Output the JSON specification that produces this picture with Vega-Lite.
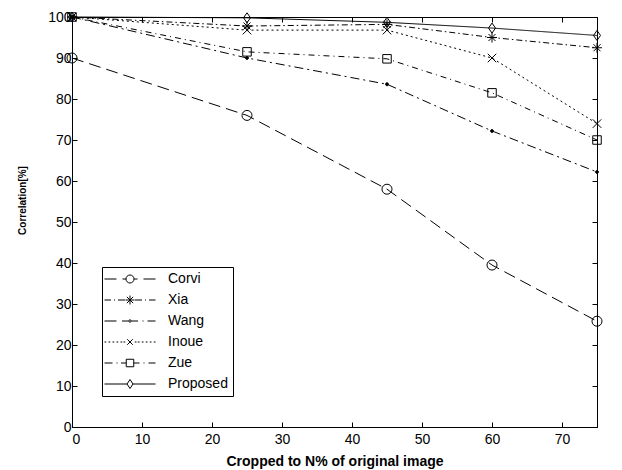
{
  "$schema": "https://vega.github.io/schema/vega-lite/v6.json",
  "width": 525,
  "height": 410,
  "autosize": {"type": "none"},
  "padding": {"left": 72, "top": 17, "right": 25, "bottom": 43},
  "background": "white",
  "config": {
    "view": {"stroke": "black", "strokeWidth": 1},
    "font": "Liberation Sans",
    "axis": {
      "domainColor": "black", "tickColor": "black", "labelColor": "black", "titleColor": "black",
      "grid": false, "labelFont": "Liberation Sans", "labelFontSize": 14, "tickSize": -5,
      "domainWidth": 1, "tickWidth": 1
    }
  },
  "data": {
    "values": [
      {"series": "Corvi", "x": 0, "y": 90}, {"series": "Corvi", "x": 25, "y": 76}, {"series": "Corvi", "x": 45, "y": 58}, {"series": "Corvi", "x": 60, "y": 39.5}, {"series": "Corvi", "x": 75, "y": 25.8},
      {"series": "Xia", "x": 0, "y": 100}, {"series": "Xia", "x": 25, "y": 97.8}, {"series": "Xia", "x": 45, "y": 98.2}, {"series": "Xia", "x": 60, "y": 95}, {"series": "Xia", "x": 75, "y": 92.5},
      {"series": "Wang", "x": 0, "y": 100}, {"series": "Wang", "x": 25, "y": 90}, {"series": "Wang", "x": 45, "y": 83.6}, {"series": "Wang", "x": 60, "y": 72.2}, {"series": "Wang", "x": 75, "y": 62.2},
      {"series": "Inoue", "x": 0, "y": 100}, {"series": "Inoue", "x": 25, "y": 96.8}, {"series": "Inoue", "x": 45, "y": 96.8}, {"series": "Inoue", "x": 60, "y": 90}, {"series": "Inoue", "x": 75, "y": 74},
      {"series": "Zue", "x": 0, "y": 100}, {"series": "Zue", "x": 25, "y": 91.5}, {"series": "Zue", "x": 45, "y": 89.8}, {"series": "Zue", "x": 60, "y": 81.5}, {"series": "Zue", "x": 75, "y": 70},
      {"series": "Proposed", "x": 0, "y": 100}, {"series": "Proposed", "x": 25, "y": 99.8}, {"series": "Proposed", "x": 45, "y": 98.7}, {"series": "Proposed", "x": 60, "y": 97.3}, {"series": "Proposed", "x": 75, "y": 95.5}
    ]
  },
  "resolve": {
    "scale": {"shape": "independent", "fill": "independent", "strokeDash": "independent", "strokeWidth": "independent"},
    "axis": {"x": "independent", "y": "independent"}
  },
  "layer": [
    {
      "mark": {"type": "line", "color": "black", "strokeWidth": 1},
      "encoding": {
        "x": {"field": "x", "type": "quantitative", "scale": {"domain": [0, 75], "nice": false},
          "axis": {"orient": "bottom", "values": [0, 10, 20, 30, 40, 50, 60, 70], "title": "Cropped to N% of original image",
            "titleFont": "Liberation Sans", "titleFontSize": 14, "titleFontWeight": "bold", "labelPadding": 10, "titlePadding": 8}},
        "y": {"field": "y", "type": "quantitative", "scale": {"domain": [0, 100], "nice": false},
          "axis": {"orient": "left", "values": [0, 10, 20, 30, 40, 50, 60, 70, 80, 90, 100], "title": "Correlation[%]",
            "titleFont": "Liberation Sans", "titleFontSize": 10, "titleFontWeight": "bold", "labelPadding": 6,
            "titleX": -50, "titleY": 183, "titleAngle": -90, "titleAlign": "center", "titleBaseline": "middle"}},
        "strokeDash": {"field": "series", "type": "nominal",
          "scale": {"domain": ["Corvi", "Xia", "Wang", "Inoue", "Zue", "Proposed"], "range": [[12, 6], [6, 3, 1.5, 3], [9, 4, 2, 4], [2, 3], [6, 4, 1, 4], [1, 0]]},
          "legend": null},
        "strokeWidth": {"field": "series", "type": "nominal",
          "scale": {"domain": ["Corvi", "Xia", "Wang", "Inoue", "Zue", "Proposed"], "range": [1, 1, 1.2, 1, 1, 1.6]},
          "legend": null}
      }
    },
    {
      "mark": {"type": "point", "filled": true, "stroke": "black", "strokeWidth": 1, "opacity": 1, "size": 100},
      "encoding": {
        "x": {"field": "x", "type": "quantitative", "axis": {"orient": "top", "labels": false, "title": null, "values": [0, 10, 20, 30, 40, 50, 60, 70]}},
        "y": {"field": "y", "type": "quantitative", "axis": {"orient": "right", "labels": false, "title": null, "values": [0, 10, 20, 30, 40, 50, 60, 70, 80, 90, 100]}},
        "shape": {"field": "series", "type": "nominal",
          "scale": {"domain": ["Corvi", "Xia", "Wang", "Inoue", "Zue", "Proposed"],
            "range": ["circle", "M0,-1V1M-1,0H1M-0.7,-0.7L0.7,0.7M-0.7,0.7L0.7,-0.7", "M-0.3,0A0.3,0.3 0 1,0 0.3,0A0.3,0.3 0 1,0 -0.3,0", "M-0.85,-0.85L0.85,0.85M-0.85,0.85L0.85,-0.85", "M-0.85,-0.85H0.85V0.85H-0.85Z", "M0,-1L0.7,0L0,1L-0.7,0Z"]},
          "legend": null},
        "fill": {"field": "series", "type": "nominal",
          "scale": {"domain": ["Corvi", "Xia", "Wang", "Inoue", "Zue", "Proposed"], "range": ["transparent", "transparent", "black", "transparent", "transparent", "transparent"]},
          "legend": null}
      }
    },
    {
      "mark": {"type": "point", "filled": false, "color": "black", "opacity": 0},
      "encoding": {
        "x": {"field": "x", "type": "quantitative", "axis": null},
        "y": {"field": "y", "type": "quantitative", "axis": null},
        "shape": {"field": "series", "type": "nominal",
          "scale": {"domain": ["Corvi", "Xia", "Wang", "Inoue", "Zue", "Proposed"],
            "range": [
              "M-5.1,0H-2.7M-1.5,0H-0.8M0.8,0H1.5M2.7,0H5.1M-0.8,0A0.8,0.8 0 1,0 0.8,0A0.8,0.8 0 1,0 -0.8,0",
              "M-5.1,0H-3.8M-3.2,0H-3M-2.4,0H-1M1,0H2.4M3,0H3.2M3.8,0H5.1M0,-0.9V0.9M-0.9,0H0.9M-0.63,-0.63L0.63,0.63M-0.63,0.63L0.63,-0.63",
              "M-5.1,0H-2.7M-1.6,0H-0.3M0.3,0H1.6M2.5,0H2.7M3.5,0H5.1M-0.25,0A0.25,0.25 0 1,0 0.25,0A0.25,0.25 0 1,0 -0.25,0",
              "M-5.1,0H-4.75M-4.3,0H-3.95M-3.5,0H-3.15M-2.7,0H-2.35M-1.9,0H-1.55M-1.3,0H-0.95M0.95,0H1.3M1.55,0H1.9M2.35,0H2.7M3.15,0H3.5M3.95,0H4.3M4.75,0H5.1M-0.55,-0.55L0.55,0.55M-0.55,0.55L0.55,-0.55",
              "M-5.1,0H-3.5M-2.7,0H-2.5M-1.8,0H-0.75M0.75,0H1.9M2.7,0H2.9M3.7,0H5.1M-0.75,-0.75H0.75V0.75H-0.75Z",
              "M-5.1,0H-0.6M0.6,0H5.1M0,-0.9L0.6,0L0,0.9L-0.6,0Z"
            ]},
          "legend": {"title": null, "orient": "none", "legendX": 30, "legendY": 250, "strokeColor": "black", "fillColor": "white",
            "padding": 5, "symbolSize": 100, "symbolStrokeWidth": 1, "symbolStrokeColor": "black", "symbolFillColor": "transparent",
            "symbolOpacity": 1, "symbolOffset": 16, "labelOffset": 31, "labelFont": "Liberation Sans", "labelFontSize": 14,
            "labelColor": "black", "rowPadding": 7, "cornerRadius": 0}}
      }
    }
  ]
}
